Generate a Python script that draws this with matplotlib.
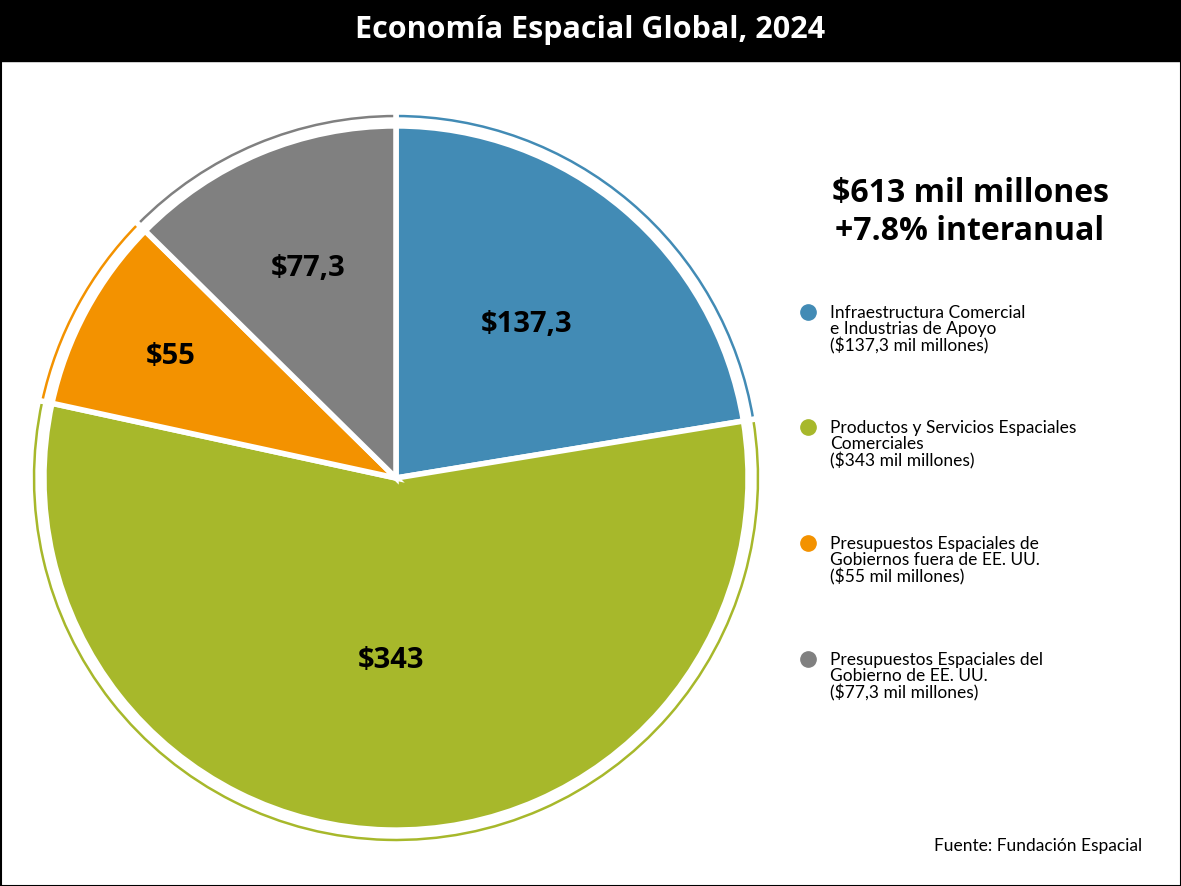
import numpy as np
import matplotlib.pyplot as plt

categories = ["Infraestructura Comercial\ne Industrias de Apoyo\n($137,3 mil millones)",
              "Productos y Servicios Espaciales\nComerciales\n($343 mil millones)",
              "Presupuestos Espaciales de\nGobiernos fuera de EE. UU.\n($55 mil millones)",
              "Presupuestos Espaciales del\nGobierno de EE. UU.\n($77,3 mil millones)"]
values = [137.3, 343, 55, 77.3]
value_labels = ["$137,3", "$343", "$55", "$77,3"]
colors = ["#428bb5", "#a7b82b", "#f39200", "#808080"]

fig = plt.figure(figsize=(11.81, 8.86), dpi=100)

# overlay in pixel coords for title bar, legend, notes
bg = fig.add_axes([0, 0, 1, 1])
bg.set_xlim(0, 1181)
bg.set_ylim(886, 0)
bg.axis("off")
bg.add_patch(plt.Rectangle((0, 0), 1181, 61, color="black"))
bg.add_patch(plt.Rectangle((0.5, 0.5), 1180, 885, fill=False, ec="black", lw=1.5))
bg.text(590, 30, "Economía Espacial Global, 2024", color="white", ha="center", va="center",
        fontsize=22, fontweight="bold", family="Open Sans")
bg.text(970, 212, "$613 mil millones\n+7.8% interanual", ha="center", va="center",
        fontsize=23, fontweight="bold", family="Open Sans", linespacing=1.2)
ys = [330, 445, 561, 677]
for y, c, lab in zip(ys, colors, categories):
    bg.plot(808, y - 18, "o", ms=11, color=c)
    bg.text(830, y, lab, ha="left", va="center", fontsize=12.5, family="Lato", linespacing=1.0)
bg.text(1142, 846, "Fuente: Fundación Espacial", ha="right", va="center", fontsize=12.5, family="Lato")

ax = fig.add_axes([30 / 1181, (886 - 478 - 366) / 886, 732 / 1181, 732 / 886])
ax.pie(values, colors=colors, startangle=90, counterclock=False, radius=1.0,
       wedgeprops=dict(width=0.022, edgecolor="white", linewidth=4))
ax.pie(values, colors=colors, startangle=90, counterclock=False, radius=0.962,
       wedgeprops=dict(edgecolor="white", linewidth=4))
ax.set_xlim(-1, 1)
ax.set_ylim(-1, 1)
ax.set_aspect("equal")

total = sum(values)
ang = 90.0
dists = [0.55, 0.5, 0.7, 0.62]
for v, lab, d in zip(values, value_labels, dists):
    mid = np.deg2rad(ang - v / total * 180)
    ax.text(d * np.cos(mid), d * np.sin(mid), lab, ha="center", va="center",
            fontsize=21, fontweight="bold", family="Open Sans")
    ang -= v / total * 360

fig.savefig("out.png", dpi=100)
